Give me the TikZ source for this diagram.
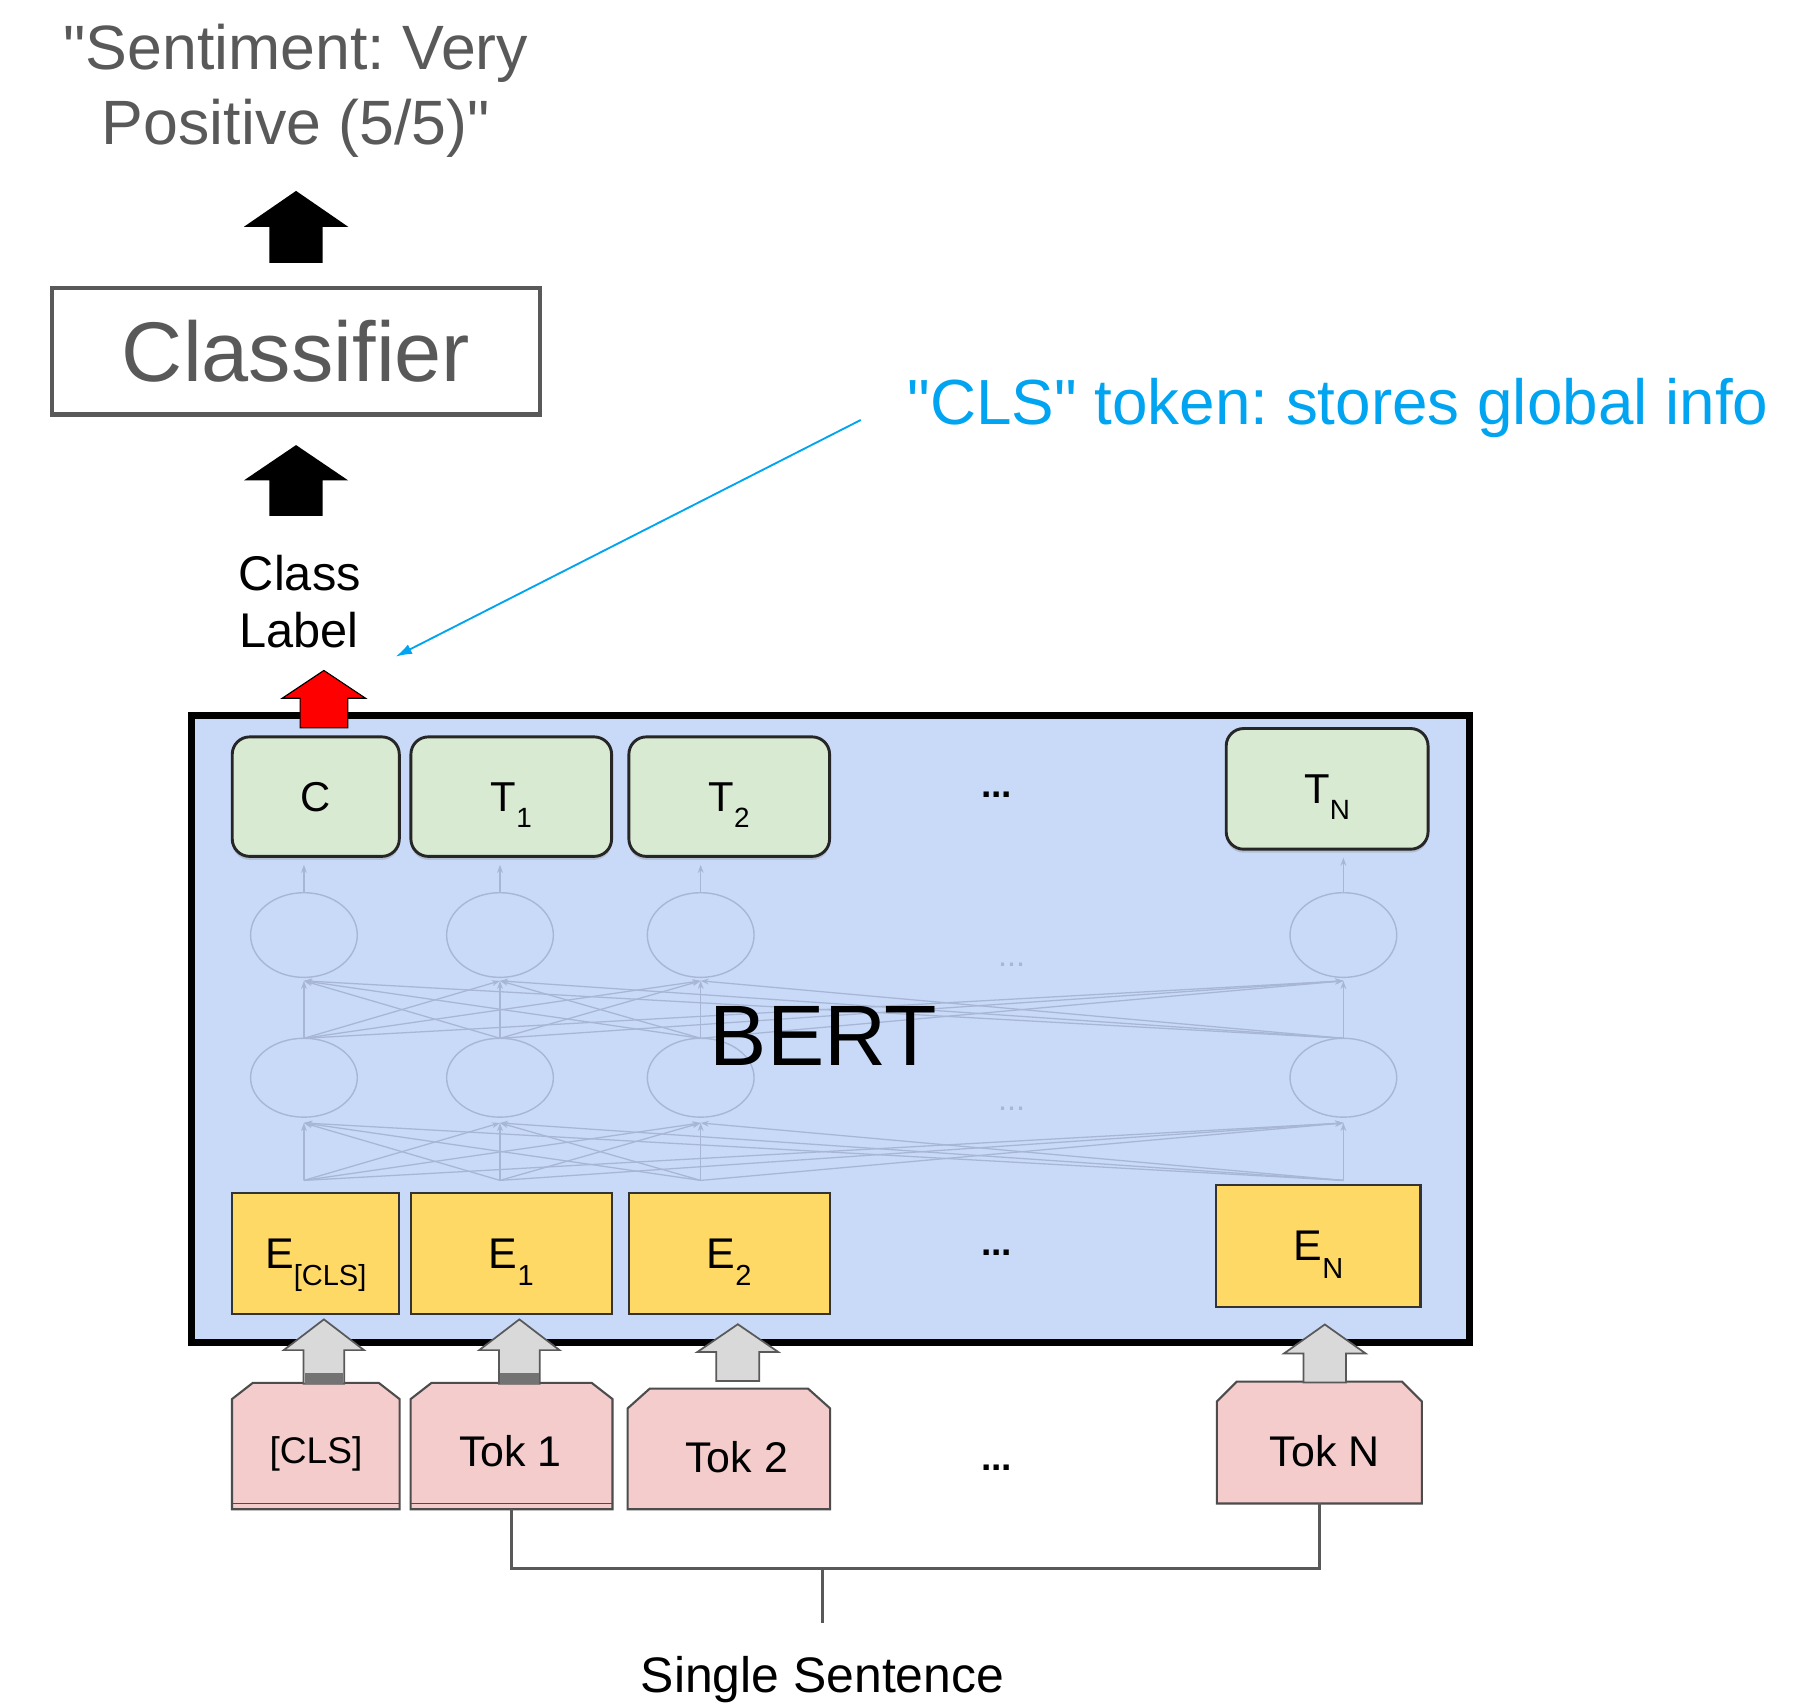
\documentclass[tikz,border=0pt]{standalone}
\usepackage{fontspec}
\setmainfont{Liberation Sans}[Ligatures=TeXOff]
\usetikzlibrary{arrows.meta,calc,shapes.geometric,shadows}
\frenchspacing

\definecolor{bertfill}{HTML}{C9DAF8}
\definecolor{outgreen}{HTML}{D9EAD3}
\definecolor{embyellow}{HTML}{FFD966}
\definecolor{tokpink}{HTML}{F4CCCC}
\definecolor{blockgray}{HTML}{D9D9D9}
\definecolor{textgray}{HTML}{595959}
\definecolor{noteblue}{RGB}{0,164,240}
\definecolor{netc}{RGB}{166,182,212}

\newcommand\fs[1]{\fontsize{#1}{#1}\selectfont}
% lowered index: drop, size, text
\newcommand\lowidx[3]{\raisebox{-#1}{\fontsize{#2}{#2}\selectfont #3}}
% block arrow pointing up: style, tip, total length, head length, head half-width, stem half-width
\newcommand\blockarrow[6]{%
  \path[#1] (#2) -- ++(#5,#4) -- ++({#6-#5},0) -- ++(0,{#3-#4}) -- ++({-2*#6},0)
    -- ++(0,{#4-#3}) -- ++({#6-#5},0) -- cycle;}
% token box with chamfered top corners: name, cx, cy, w, h, chamfer x, chamfer y
\newcommand\tokenbox[7]{%
  \path[tokshape] ({#2-#4/2},{#3+#5/2}) -- ({#2-#4/2},{#3-#5/2+#7}) -- ({#2-#4/2+#6},{#3-#5/2})
    -- ({#2+#4/2-#6},{#3-#5/2}) -- ({#2+#4/2},{#3-#5/2+#7}) -- ({#2+#4/2},{#3+#5/2}) -- cycle;
  \node[inner sep=0pt, outer sep=0pt, minimum width=#4pt, minimum height=#5pt] (#1) at (#2,#3) {};}

\begin{document}
\begin{tikzpicture}[x=1pt,y=-1pt,
  lbl/.style={inner sep=0pt, anchor=base},
  outbox/.style={draw=black!85, line width=2.5pt, fill=outgreen, rounded corners=15pt,
    drop shadow={shadow xshift=0pt, shadow yshift=-3pt, opacity=0.3},
    inner sep=0pt, minimum height=103pt, text depth=0pt, font=\fs{36}},
  embbox/.style={draw=black!80, line width=1.8pt, fill=embyellow, inner sep=0pt,
    minimum height=104pt, text depth=0pt, font=\fs{37}},
  tokshape/.style={draw=black!70, line width=1.8pt, fill=tokpink},
  toklbl/.style={inner sep=0pt, text depth=0pt},
  neuron/.style={ellipse, draw=netc, line width=1.2pt, inner sep=0pt, outer sep=0pt,
    minimum width=92pt},
  netarrow/.style={draw=netc, line width=1.1pt, -{Stealth[length=7pt,width=5pt]}},
  grayblock/.style={fill=blockgray, draw=black!65, line width=1.5pt, line join=miter},
  blackblock/.style={fill=black},
  redblock/.style={fill=red, draw=black, line width=1pt},
  bracket/.style={draw=textgray, line width=2.8pt},
  dotlbl/.style={inner sep=0pt, font=\fs{32}\bfseries}
]
\fill[white] (0,0) rectangle (1568,1468);
\useasboundingbox (0,0) rectangle (1568,1468);

% ---- classifier head ----
\node[lbl, text=textgray, font=\fs{54}] (title1) at (255,59.5) {"Sentiment: Very};
\node[lbl, text=textgray, font=\fs{54}] (title2) at (255,124.7) {Positive (5/5)"};
\node[draw=textgray, line width=3.5pt, minimum width=420pt, minimum height=109pt,
  inner sep=0pt, text=textgray, font=\fs{73}] (clf) at (255.2,302.8) {Classifier};
\coordinate (tipA) at ([yshift=82pt]clf.north);
\coordinate (tipB) at ([yshift=-24.6pt]clf.south);
\blockarrow{blackblock}{tipA}{62}{31}{45}{23}
\blockarrow{blackblock}{tipB}{61}{30.5}{45}{23}
\node[lbl, font=\fs{42}] (cl1) at (258.5,508.6) {Class};
\node[lbl, font=\fs{42}] (cl2) at (257.5,558) {Label};

% ---- annotation ----
\node[inner sep=0pt, anchor=base west, text=noteblue, font=\fs{55}] (note) at (782,366)
  {"CLS" token: stores global info};
\coordinate (clsmark) at ([xshift=32pt,yshift=-8pt]cl2.base east);
\draw[noteblue, line width=1.6pt, -{Latex[length=14pt,width=9pt]}]
  ([xshift=-40pt,yshift=4pt]note.base west) -- (clsmark);

% ---- BERT block ----
\node[draw=black, line width=6pt, fill=bertfill, minimum width=1102pt, minimum height=540pt,
  inner sep=0pt] (bert) at (716,887) {};

% output vectors
\node[outbox, minimum width=144pt] (cbox) at (272.2,686.7) {C};
\node[outbox, minimum width=173pt] (t1box) at (440.7,686.7) {T\lowidx{14pt}{24}{1}};
\node[outbox, minimum width=173pt] (t2box) at (628.6,686.7) {T\lowidx{14pt}{24}{2}};
\node[outbox, minimum width=174pt, minimum height=104pt] (tnbox) at (1144,680) {T\lowidx{14pt}{24}{N}};
\node[dotlbl] (dotsT) at (859,685) {...};

% input embeddings
\node[embbox, minimum width=144pt] (ecls) at (272.2,1080.4) {E\lowidx{15pt}{25}{[CLS]}};
\node[embbox, minimum width=173pt] (e1) at (440.7,1080.4) {E\lowidx{15pt}{25}{1}};
\node[embbox, minimum width=173pt] (e2) at (628.6,1080.4) {E\lowidx{15pt}{25}{2}};
\node[embbox, minimum width=176pt, minimum height=105pt] (en) at (1136.5,1074) {E\lowidx{15pt}{25}{N}};
\node[dotlbl] (dotsE) at (859,1080) {...};

% faint transformer layers
\foreach \i/\x in {1/262,2/431,3/604,4/1158}{
  \node[neuron, minimum height=73pt] (u\i) at (\x,806) {};
  \node[neuron, minimum height=68pt] (l\i) at (\x,929) {};
  \coordinate (b\i) at ([yshift=10pt]l\i.south |- ecls.north);
  \coordinate (lt\i) at ([yshift=-5pt]l\i.south);
  \coordinate (ut\i) at ([yshift=-3pt]u\i.south);
}
\coordinate (g1) at (u1.north |- cbox.south);
\coordinate (g2) at (u2.north |- t1box.south);
\coordinate (g3) at (u3.north |- t2box.south);
\coordinate (g4) at (u4.north |- tnbox.south);
\foreach \i in {1,...,4}{
  \foreach \j in {1,...,4}{
    \draw[netarrow] (b\i) -- (lt\j);
    \draw[netarrow] (l\i.north) -- (ut\j);
  }
  \draw[netarrow] (u\i.north) -- ([yshift=-6pt]g\i);
}
\node[inner sep=0pt, font=\fs{28}, text=netc] (dotsU) at (872,832) {...};
\node[inner sep=0pt, font=\fs{28}, text=netc] (dotsL) at (872,956) {...};
\node[inner sep=0pt, font=\fs{74}] (berttxt) at (710,893) {BERT};

% class label arrow out of C
\coordinate (tipR) at ([xshift=7pt,yshift=56pt]cbox.north);
\blockarrow{redblock}{tipR}{49.5}{24}{36}{20.5}

% ---- tokens ----
\tokenbox{tcls}{272.2}{1246.5}{144.5}{109}{18}{14}
\tokenbox{tok1}{441}{1246.5}{174}{109}{18}{14}
\tokenbox{tok2}{628.3}{1249}{174.5}{104}{19}{17}
\tokenbox{tokn}{1137.3}{1243.5}{176.6}{105}{17}{17}
\draw[black!70, line width=1pt] ([yshift=5pt]tcls.south west) -- ([yshift=5pt]tcls.south east);
\draw[black!70, line width=1pt] ([yshift=5pt]tok1.south west) -- ([yshift=5pt]tok1.south east);
\node[toklbl, font=\fs{32}] (lcls) at (272.4,1250) {[CLS]};
\node[toklbl, font=\fs{37}] (ltok1) at (440,1250.5) {Tok 1};
\node[toklbl, font=\fs{37}] (ltok2) at (635,1256) {Tok 2};
\node[toklbl, font=\fs{37}] (ltokn) at (1142,1250.7) {Tok N};
\node[dotlbl] (dotsK) at (859,1265) {...};

% token -> embedding arrows
\coordinate (acls) at ([xshift=7pt,yshift=-4pt]ecls.south);
\coordinate (atok1) at ([xshift=7pt,yshift=-4pt]e1.south);
\coordinate (atok2) at ([xshift=7.4pt,yshift=-8.2pt]e2.south);
\coordinate (atokn) at ([xshift=5.5pt,yshift=-14.3pt]en.south);
\blockarrow{grayblock}{acls}{55.5}{26.5}{34.6}{17.5}
\blockarrow{grayblock}{atok1}{55.5}{26.5}{34.6}{17.5}
\blockarrow{grayblock}{atok2}{49}{24}{35}{18.5}
\blockarrow{grayblock}{atokn}{50}{25}{35.2}{18.3}
\fill[black!55] ($(acls)+(-16.7,46.5)$) rectangle ($(acls)+(16.7,55.5)$);
\fill[black!55] ($(atok1)+(-16.7,46.5)$) rectangle ($(atok1)+(16.7,55.5)$);

% sentence bracket
\coordinate (join) at (709,1352);
\draw[bracket] (tok1.south) |- (join) -| (tokn.south);
\draw[bracket] (join) -- ++(0,47);
\node[lbl, font=\fs{43}] (sent) at (709,1459) {Single Sentence};
\end{tikzpicture}
\end{document}
